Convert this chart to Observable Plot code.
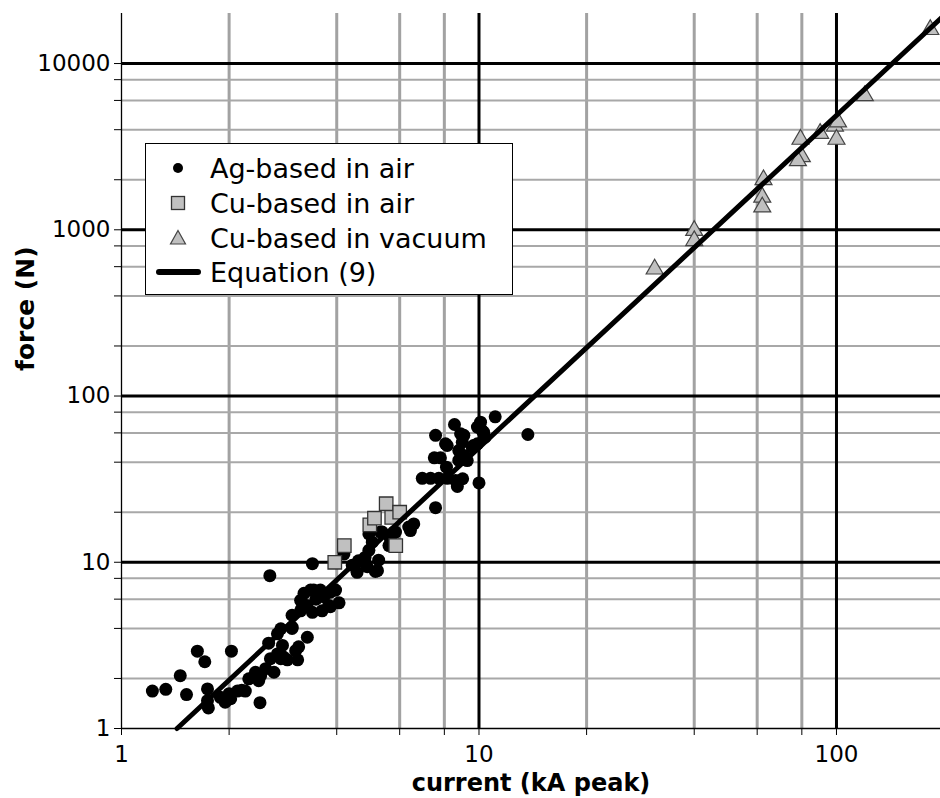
<!DOCTYPE html>
<html><head><meta charset="utf-8">
<script src="https://cdn.jsdelivr.net/npm/d3@7"></script>
<script src="https://cdn.jsdelivr.net/npm/@observablehq/plot@0.6"></script>
<style>
html,body{margin:0;padding:0;background:#fff;overflow:hidden;}
#wrap{position:relative;width:940px;height:798px;font-family:"DejaVu Sans",Verdana,sans-serif;}
#legend{position:absolute;left:145px;top:143px;width:368px;height:152px;border:1.4px solid #000;background:#fff;box-sizing:border-box;}
.row{position:absolute;left:0;height:34px;display:flex;align-items:center;font-size:27px;color:#000;white-space:nowrap;}
.row svg{width:64px;height:34px;display:block;flex:none;}
</style></head>
<body><div id="wrap"></div>
<script>
// ---- data ----
const agCurrent = [1.22,1.33,1.46,1.52,1.63,1.71,1.74,1.74,1.75,1.89,1.95,2.02,2.03,2.00,2.11,2.17,2.22,2.44,2.27,2.42,2.45,2.37,2.53,2.67,2.61,2.58,2.73,2.82,2.84,2.91,2.73,2.79,3.07,3.11,3.00,3.00,3.17,3.31,3.13,2.79,3.00,3.20,3.24,3.38,3.60,3.84,3.50,4.06,3.42,3.64,3.84,3.17,3.68,3.97,3.45,3.80,3.30,2.60,3.42,4.19,4.42,4.60,4.56,4.82,5.20,5.24,4.87,5.13,4.80,4.92,5.03,4.92,5.30,5.78,5.60,5.65,6.36,6.57,6.43,7.56,5.36,5.84,6.94,7.32,7.72,8.15,8.60,9.00,8.70,10.0,8.11,7.50,7.80,7.56,8.06,8.54,8.88,8.98,8.78,9.07,9.27,8.78,9.57,9.90,10.1,9.90,10.3,11.1,13.7,10.4,8.15,9.07,9.65,10.2];
const agForce   = [1.68,1.72,2.08,1.60,2.92,2.52,1.73,1.47,1.33,1.54,1.44,1.51,2.92,1.62,1.68,1.70,1.68,1.43,1.99,1.94,2.08,2.18,2.29,2.18,2.63,3.26,3.71,3.16,2.69,2.59,2.81,2.63,2.94,2.59,4.00,4.80,5.10,3.54,3.10,3.98,4.07,5.30,6.50,6.80,6.80,6.60,6.00,5.70,5.00,5.10,5.40,5.90,6.20,6.80,6.80,5.50,5.50,8.30,9.80,11.2,9.6,10.2,8.7,9.8,8.9,10.3,9.4,8.8,10.7,11.8,13.2,14.8,15.2,15.2,12.6,13.8,16.3,17.0,15.5,21.3,15.2,15.2,32,32,32,32,31,31.8,28.6,30,37.3,42.5,42.5,58,51.6,67.4,59.3,52.7,47,43.9,40.9,41,49.2,51.6,69.6,65,60.6,75,58.7,56.5,50.4,58,50.4,62];

const cuAirCurrent = [3.95,4.20,4.95,5.10,5.50,5.70,6.00,5.85];
const cuAirForce   = [10.0,12.6,16.8,18.4,22.5,18.6,20.0,12.6];

const cuVacCurrent = [31,40,40,62.5,62,62,79.3,80,78,90,99,101,100,120,183];
const cuVacForce   = [580,990,860,2000,1570,1370,3500,2750,2600,3800,4200,4450,3500,6400,16000];

const eqCurrent = [1.43,200];
const eqForce   = [1,19500];

const xMinor = [2,4,6,8,20,40,60,80];
const xMajor = [10,100];
const yMinor = [2,4,6,8,20,40,60,80,200,400,600,800,2000,4000,6000,8000];
const yMajor = [10,100,1000,10000];
const xTickValues = [1,10,100];
const xTickLabels = ["1","10","100"];
const yTickValues = [1,10,100,1000,10000];
const yTickLabels = ["1","10","100","1000","10000"];

const xTitle = "current (kA peak)";
const yTitle = "force (N)";
const legendLabels = ["Ag-based in air","Cu-based in air","Cu-based in vacuum","Equation (9)"];

const toRows = (xs, ys) => xs.map((x,i) => ({x, y: ys[i]}));
const ag = toRows(agCurrent, agForce);
const cuAir = toRows(cuAirCurrent, cuAirForce);
const cuVac = toRows(cuVacCurrent, cuVacForce);
const eq = toRows(eqCurrent, eqForce);

const chart = Plot.plot({
  width: 940, height: 798,
  marginLeft: 121, marginRight: 0, marginTop: 13, marginBottom: 70,
  style: {fontFamily: "'DejaVu Sans', Verdana, sans-serif", fontSize: "23px", background: "white", color: "black"},
  x: {type: "log", domain: [1, 200], range: [121, 943.6]},
  y: {type: "log", domain: [1, 20000], range: [728, 13]},
  marks: [
    Plot.ruleX(xMinor, {stroke: "#a2a2a2", strokeWidth: 3}),
    Plot.ruleY(yMinor, {stroke: "#a8a8a8", strokeWidth: 2}),
    Plot.ruleX(xMajor, {stroke: "#000", strokeWidth: 3}),
    Plot.ruleY(yMajor, {stroke: "#000", strokeWidth: 3}),
    Plot.ruleX([1], {stroke: "#000", strokeWidth: 1.3}),
    Plot.ruleY([1], {stroke: "#000", strokeWidth: 1.3}),
    Plot.axisX(xMinor, {tickSize: 7, tickFormat: () => "", label: null}),
    Plot.axisX(xTickValues, {tickSize: 7, tickPadding: 10, tickFormat: d => xTickLabels[xTickValues.indexOf(d)], label: null}),
    Plot.axisY(yMinor, {tickSize: 7, tickFormat: () => "", label: null}),
    Plot.axisY(yTickValues, {tickSize: 7, tickPadding: 4, tickFormat: d => yTickLabels[yTickValues.indexOf(d)], label: null}),
    Plot.dot(ag, {x: "x", y: "y", r: 6.5, fill: "#000"}),
    Plot.dot(cuAir, {x: "x", y: "y", symbol: "square", r: 7.6, fill: "#c0c0c0", stroke: "#333", strokeWidth: 1.3}),
    Plot.dot(cuVac, {x: "x", y: "y", symbol: "triangle", r: 6.3, fill: "#c0c0c0", stroke: "#444", strokeWidth: 1.2}),
    Plot.line(eq, {x: "x", y: "y", stroke: "#000", strokeWidth: 5}),
    Plot.text([xTitle], {text: d => d, frameAnchor: "bottom", dy: 62, lineAnchor: "bottom", fontWeight: "bold", fontSize: 24}),
    Plot.text([yTitle], {text: d => d, frameAnchor: "left", dx: -96, rotate: -90, fontWeight: "bold", fontSize: 25})
  ]
});
const wrap = document.getElementById("wrap");
wrap.appendChild(chart);

// legend (HTML overlay)
const legend = document.createElement("div");
legend.id = "legend";
const markers = [
  '<circle cx="32" cy="17" r="5" fill="#000"/>',
  '<rect x="25.5" y="10.5" width="13" height="13" fill="#c0c0c0" stroke="#333" stroke-width="1.3"/>',
  '<path d="M32,9.5 L39.5,23 L24.5,23 Z" fill="#c0c0c0" stroke="#444" stroke-width="1.2"/>',
  '<line x1="13" y1="17" x2="52" y2="17" stroke="#000" stroke-width="6" stroke-linecap="round"/>'
];
const rowCenters = [24, 59, 94, 128];
legendLabels.forEach((lab, i) => {
  const row = document.createElement("div");
  row.className = "row";
  row.style.top = (rowCenters[i] - 17) + "px";
  row.innerHTML = '<svg viewBox="0 0 64 34">' + markers[i] + '</svg><span>' + lab + '</span>';
  legend.appendChild(row);
});
wrap.appendChild(legend);
</script>
</body></html>
